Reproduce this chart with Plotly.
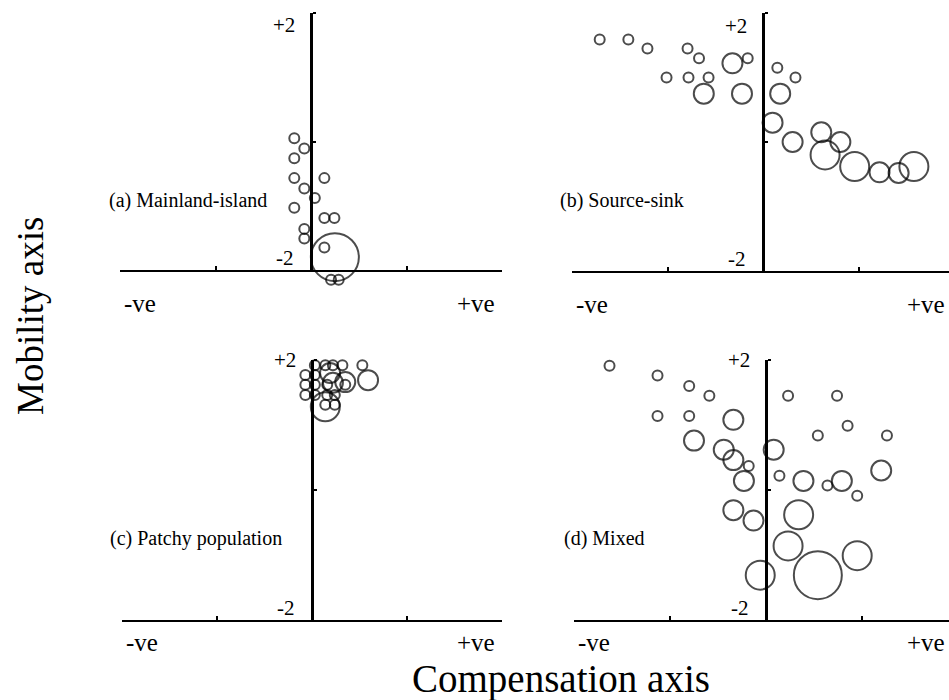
import plotly.graph_objects as go

# ---------------- data (compensation x, mobility y, size class) ----------------
a_x = [-0.175, -0.07, -0.175, -0.175, 0.14, -0.07, 0.04, -0.175, 0.14, 0.245, -0.07, -0.07, 0.14, 0.25]
a_y = [0.05, -0.11, -0.26, -0.57, -0.57, -0.73, -0.88, -1.03, -1.19, -1.19, -1.36, -1.51, -1.65, -1.8]
a_s = [1, 1, 1, 1, 1, 1, 1, 1, 1, 1, 1, 1, 1, 4]
# two small circles in (a) sitting just below the -2 baseline
a2_x = [0.21, 0.29]
a2_y = [-2.15, -2.15]
a2_s = [1, 1]

b_x = [-1.71, -1.41, -1.21, -0.79, -0.67, -0.32, -0.16, -1.01, -0.78, -0.57, -0.62, -0.22,
       0.15, 0.34, 0.18, 0.10, 0.31, 0.61, 0.81, 0.65, 0.96, 1.22, 1.42, 1.58]
b_y = [1.59, 1.59, 1.45, 1.45, 1.30, 1.22, 1.30, 1.0, 1.0, 1.0, 0.75, 0.75,
       1.15, 1.0, 0.75, 0.30, 0.0, 0.15, 0.0, -0.2, -0.38, -0.47, -0.48, -0.38]
b_s = [1, 1, 1, 1, 1, 2, 1, 1, 1, 1, 2, 2, 1, 1, 2, 2, 2, 2, 2, 3, 3, 2, 2, 3]

c_x = [0.03, 0.14, 0.22, 0.32, 0.53, -0.07, 0.03, 0.19, 0.35, 0.59, -0.07, 0.03, 0.16, 0.35,
       -0.07, 0.03, 0.16, 0.24, 0.14, 0.24, 0.14, 0.22]
c_y = [1.92, 1.92, 1.92, 1.92, 1.92, 1.77, 1.77, 1.80, 1.66, 1.69, 1.62, 1.62, 1.62, 1.62,
       1.46, 1.46, 1.46, 1.46, 1.31, 1.31, 1.28, 1.65]
c_s = [1, 1, 1, 1, 1, 1, 1, 2, 2, 2, 1, 1, 1, 1, 1, 1, 1, 1, 1, 1, 3, 2]

d_x = [-1.63, -1.13, -0.80, -0.59, -1.13, -0.80, -0.34, -0.75, -0.44, -0.34, -0.18, -0.23, -0.34,
       -0.13, -0.06, 0.08, 0.23, 0.74, 0.54, 0.85, 1.26, 0.14, 0.39, 0.64, 0.79, 0.95, 1.20,
       0.34, 0.23, 0.54, 0.95]
d_y = [1.91, 1.76, 1.60, 1.45, 1.14, 1.14, 1.08, 0.76, 0.62, 0.46, 0.37, 0.14, -0.31,
       -0.47, -1.31, 0.62, 1.45, 1.45, 0.84, 0.99, 0.84, 0.22, 0.14, 0.07, 0.14, -0.09, 0.30,
       -0.38, -0.86, -1.31, -1.01]
d_s = [1, 1, 1, 1, 1, 1, 2, 2, 2, 2, 1, 2, 2, 2, 3, 2, 1, 1, 1, 1, 1, 1, 2, 1, 2, 1, 2,
       3, 3, 4, 3]

panel_labels = ["(a) Mainland-island", "(b) Source-sink", "(c) Patchy population", "(d) Mixed"]
x_title = "Compensation axis"
y_title = "Mobility axis"

# ---------------- styling / layout ----------------
W, H = 949, 700
SIZE_PX = {1: 10, 2: 20, 3: 29, 4: 48}
FONT = "Liberation Serif, Times New Roman, serif"
MARKER_LINE = 2.0

# pixel boxes of each panel
panels = [
    dict(data=(a_x, a_y, a_s), left=120, mid=311, top=13, bottom=270, ve_dy=33, top_dy=-12),
    dict(data=(b_x, b_y, b_s), left=572, mid=763, top=13, bottom=271, ve_dy=33, top_dy=-13),
    dict(data=(c_x, c_y, c_s), left=122, mid=312, top=360, bottom=620, ve_dy=22, top_dy=0),
    dict(data=(d_x, d_y, d_s), left=574, mid=766, top=360, bottom=620, ve_dy=22, top_dy=0),
]


def circles(xs, ys, ss, xa, ya):
    return go.Scatter(
        x=xs, y=ys, mode="markers", xaxis=xa, yaxis=ya, cliponaxis=False,
        marker=dict(symbol="circle-open", size=[SIZE_PX[s] for s in ss],
                    color="black", line=dict(width=MARKER_LINE, color="black")),
        showlegend=False, hoverinfo="skip")


fig = go.Figure()
annotations = []
for i, p in enumerate(panels, start=1):
    xs, ys, ss = p["data"]
    half = p["mid"] - p["left"]
    right = min(p["mid"] + half, W)
    xmax = 2 * (right - p["mid"]) / half
    xa = "x" if i == 1 else f"x{i}"
    ya = "y" if i == 1 else f"y{i}"
    fig.add_trace(circles(xs, ys, ss, xa, ya))
    xdom = [p["left"] / W, right / W]
    ydom = [1 - p["bottom"] / H, 1 - p["top"] / H]
    p["xdom"], p["xrange"] = xdom, [-2, xmax]
    xkey = "xaxis" if i == 1 else f"xaxis{i}"
    ykey = "yaxis" if i == 1 else f"yaxis{i}"
    fig.layout[xkey] = dict(domain=xdom, range=[-2, xmax], anchor=ya, showline=True,
                            linewidth=2.4, linecolor="black", ticks="inside",
                            tickvals=[-2, -1, 1, 2], ticklen=4, tickwidth=2, tickcolor="black",
                            showticklabels=False, showgrid=False, zeroline=False,
                            fixedrange=True, layer="below traces")
    fig.layout[ykey] = dict(domain=ydom, range=[-2, 2], anchor="free",
                            position=p["mid"] / W, side="right", showline=True,
                            linewidth=2.8, linecolor="black", ticks="outside",
                            tickvals=[0, 2], ticklen=3, tickwidth=2, tickcolor="black",
                            showticklabels=False, showgrid=False, zeroline=False,
                            fixedrange=True, layer="below traces")
    tf = dict(family=FONT, size=21, color="black")
    vf = dict(family=FONT, size=25, color="black")
    x_right_px = p["mid"] + half - 5
    annotations += [
        dict(x=0, y=2, xref=xa, yref=ya, text="+2", showarrow=False, xanchor="right",
             yanchor="middle", xshift=-14, yshift=p["top_dy"], font=tf),
        dict(x=0, y=-2, xref=xa, yref=ya, text="-2", showarrow=False, xanchor="right",
             yanchor="middle", xshift=-15, yshift=12, font=tf),
        dict(x=(p["left"] + 2) / W, y=1 - (p["bottom"] + p["ve_dy"]) / H, xref="paper", yref="paper",
             text="-ve", showarrow=False, xanchor="left", yanchor="middle", font=vf),
        dict(x=min(x_right_px, W - 2) / W, y=1 - (p["bottom"] + p["ve_dy"]) / H, xref="paper",
             yref="paper", text="+ve", showarrow=False, xanchor="right", yanchor="middle", font=vf),
    ]

# hidden helper axes pair for panel (a): same scale, extended below the baseline
pa = panels[0]
ppu = (pa["bottom"] - pa["top"]) / 4.0
ext_px = 30
fig.layout["xaxis5"] = dict(domain=pa["xdom"], range=pa["xrange"], anchor="y5",
                            visible=False, fixedrange=True)
fig.layout["yaxis5"] = dict(domain=[1 - (pa["bottom"] + ext_px) / H, 1 - pa["top"] / H],
                            range=[-2 - ext_px / ppu, 2], anchor="x5", visible=False,
                            fixedrange=True)
fig.add_trace(circles(a2_x, a2_y, a2_s, "x5", "y5"))

label_pos = [(107, 200), (558, 200), (108, 538), (562, 538)]
for txt, (lx, ly) in zip(panel_labels, label_pos):
    annotations.append(dict(x=lx / W, y=1 - ly / H, xref="paper", yref="paper", text=txt,
                            showarrow=False, xanchor="left", yanchor="middle",
                            font=dict(family=FONT, size=20, color="black")))

annotations.append(dict(x=561 / W, y=1 - 679 / H, xref="paper", yref="paper", text=x_title,
                        showarrow=False, xanchor="center", yanchor="middle",
                        font=dict(family=FONT, size=39, color="black")))
annotations.append(dict(x=30 / W, y=1 - 316 / H, xref="paper", yref="paper", text=y_title,
                        showarrow=False, xanchor="center", yanchor="middle", textangle=-90,
                        font=dict(family=FONT, size=37, color="black")))

fig.update_layout(width=W, height=H, margin=dict(l=0, r=0, t=0, b=0),
                  paper_bgcolor="white", plot_bgcolor="rgba(0,0,0,0)",
                  annotations=annotations, showlegend=False)

fig.write_html("out.html", config={"displayModeBar": False},
               post_script="document.body.style.margin='0';document.body.style.overflow='hidden';")
